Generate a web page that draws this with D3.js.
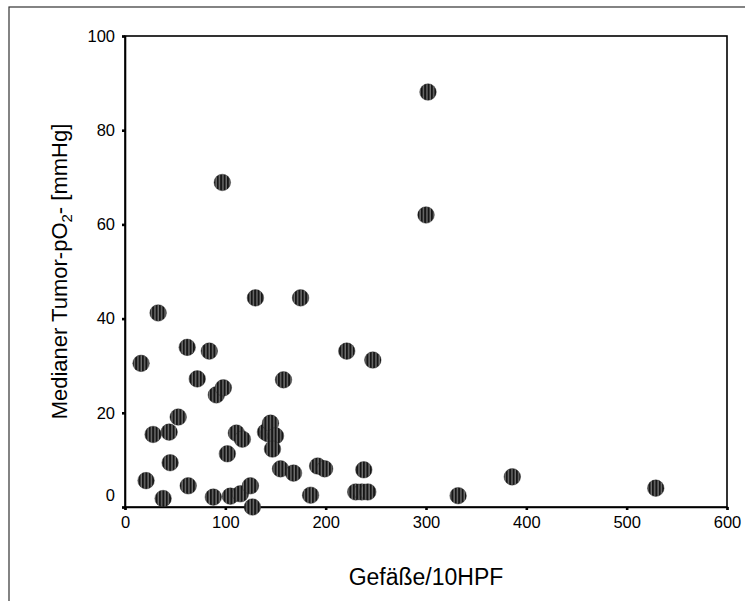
<!DOCTYPE html>
<html>
<head>
<meta charset="utf-8">
<script src="https://cdn.jsdelivr.net/npm/d3@7"></script>
<style>
  body { margin: 0; background: #fff; }
  text { font-family: "Liberation Sans", Arial, sans-serif; fill: #000; }
</style>
</head>
<body>
<div id="scatter"></div>
<script>
// vessels per 10 HPF vs. median tumour pO2
var gefaesse = [16, 21, 28, 33, 38, 45, 44, 53, 63, 62, 72, 84, 88, 91, 98, 97, 102, 105,
                111, 117, 115, 125, 127, 130, 140, 143, 145, 150, 147, 155, 158, 168, 175,
                185, 192, 199, 221, 230, 236, 242, 238, 247, 300, 302, 332, 386, 529];
var po2 = [30.5, 5.6, 15.4, 41.2, 1.8, 9.4, 15.9, 19.1, 4.5, 33.9, 27.2, 33.1, 2.1, 23.8, 25.3, 68.9, 11.3, 2.3,
           15.7, 14.4, 2.8, 4.5, 0, 44.4, 15.9, 15.5, 17.8, 15.1, 12.3, 8.1, 27.0, 7.2, 44.4,
           2.5, 8.7, 8.1, 33.1, 3.2, 3.2, 3.2, 7.9, 31.2, 62.0, 88.1, 2.4, 6.4, 4.0];
var xTicks = [0, 100, 200, 300, 400, 500, 600];
var yTicks = [0, 20, 40, 60, 80, 100];

var data = gefaesse.map(function(g, i) { return {x: g, y: po2[i]}; });

var svgwidth = 745, svgheight = 601;
var margin = {top: 36, right: 18, bottom: 94, left: 125},
    width = svgwidth - margin.left - margin.right,
    height = svgheight - margin.top - margin.bottom;

var root = d3.select("#scatter").append("svg")
    .attr("width", svgwidth)
    .attr("height", svgheight);

// outer frame (runs off the page right and bottom)
root.append("rect")
    .attr("x", 9).attr("y", 7)
    .attr("width", svgwidth).attr("height", svgheight)
    .attr("fill", "none")
    .attr("stroke", "#333")
    .attr("stroke-width", 1.2);

// striped marker fill
var pat = root.append("defs").append("pattern")
    .attr("id", "stripes")
    .attr("patternUnits", "userSpaceOnUse")
    .attr("width", 3.4).attr("height", 20);
pat.append("rect").attr("width", 3.4).attr("height", 20).attr("fill", "#161616");
pat.append("rect").attr("x", 2.2).attr("width", 0.9).attr("height", 20).attr("fill", "#a0a0a0");

var svg = root.append("g")
    .attr("transform", "translate(" + margin.left + "," + margin.top + ")");

var x = d3.scaleLinear().domain([0, 600]).range([0, width]);
var y = d3.scaleLinear().domain([0, 100]).range([height, 0]);

var xAxis = d3.axisBottom(x).tickValues(xTicks).tickSize(3).tickPadding(6);
var yAxis = d3.axisLeft(y).tickValues(yTicks).tickSize(3).tickPadding(7);

svg.append("rect")
    .attr("width", width).attr("height", height)
    .attr("fill", "none")
    .attr("stroke", "#000")
    .attr("stroke-width", 1.6);

var gx = svg.append("g")
    .attr("transform", "translate(0," + height + ")")
    .call(xAxis);

var gy = svg.append("g")
    .call(yAxis);

[gx, gy].forEach(function(g) {
    g.select(".domain").attr("stroke", "#000").attr("stroke-width", 1.6);
    g.selectAll(".tick line").attr("stroke", "#000").attr("stroke-width", 2.6);
    g.selectAll(".tick text")
        .style("font-family", "'Liberation Sans', Arial, sans-serif")
        .style("font-size", "16.5px")
        .attr("fill", "#000");
});

// the y "0" label sits above the corner
gy.selectAll(".tick text")
    .filter(function(d) { return d === 0; })
    .attr("dy", "-0.4em");

svg.selectAll(".dot")
    .data(data)
  .enter().append("circle")
    .attr("class", "dot")
    .attr("cx", function(d) { return x(d.x); })
    .attr("cy", function(d) { return y(d.y); })
    .attr("r", 8.3)
    .attr("fill", "url(#stripes)")
    .attr("stroke", "#222")
    .attr("stroke-width", 0.4);

svg.append("text")
    .attr("x", width / 2)
    .attr("y", 549)
    .style("text-anchor", "middle")
    .style("font-size", "23px")
    .text("Gefäße/10HPF");

var ylab = svg.append("text")
    .attr("transform", "translate(" + (67 - margin.left) + "," + (height / 2) + ") rotate(-90)")
    .style("text-anchor", "middle")
    .style("font-size", "22px");
ylab.append("tspan").text("Medianer Tumor-pO");
ylab.append("tspan").attr("dy", 5).style("font-size", "15px").text("2");
ylab.append("tspan").attr("dy", -5).text("- [mmHg]");
</script>
</body>
</html>
